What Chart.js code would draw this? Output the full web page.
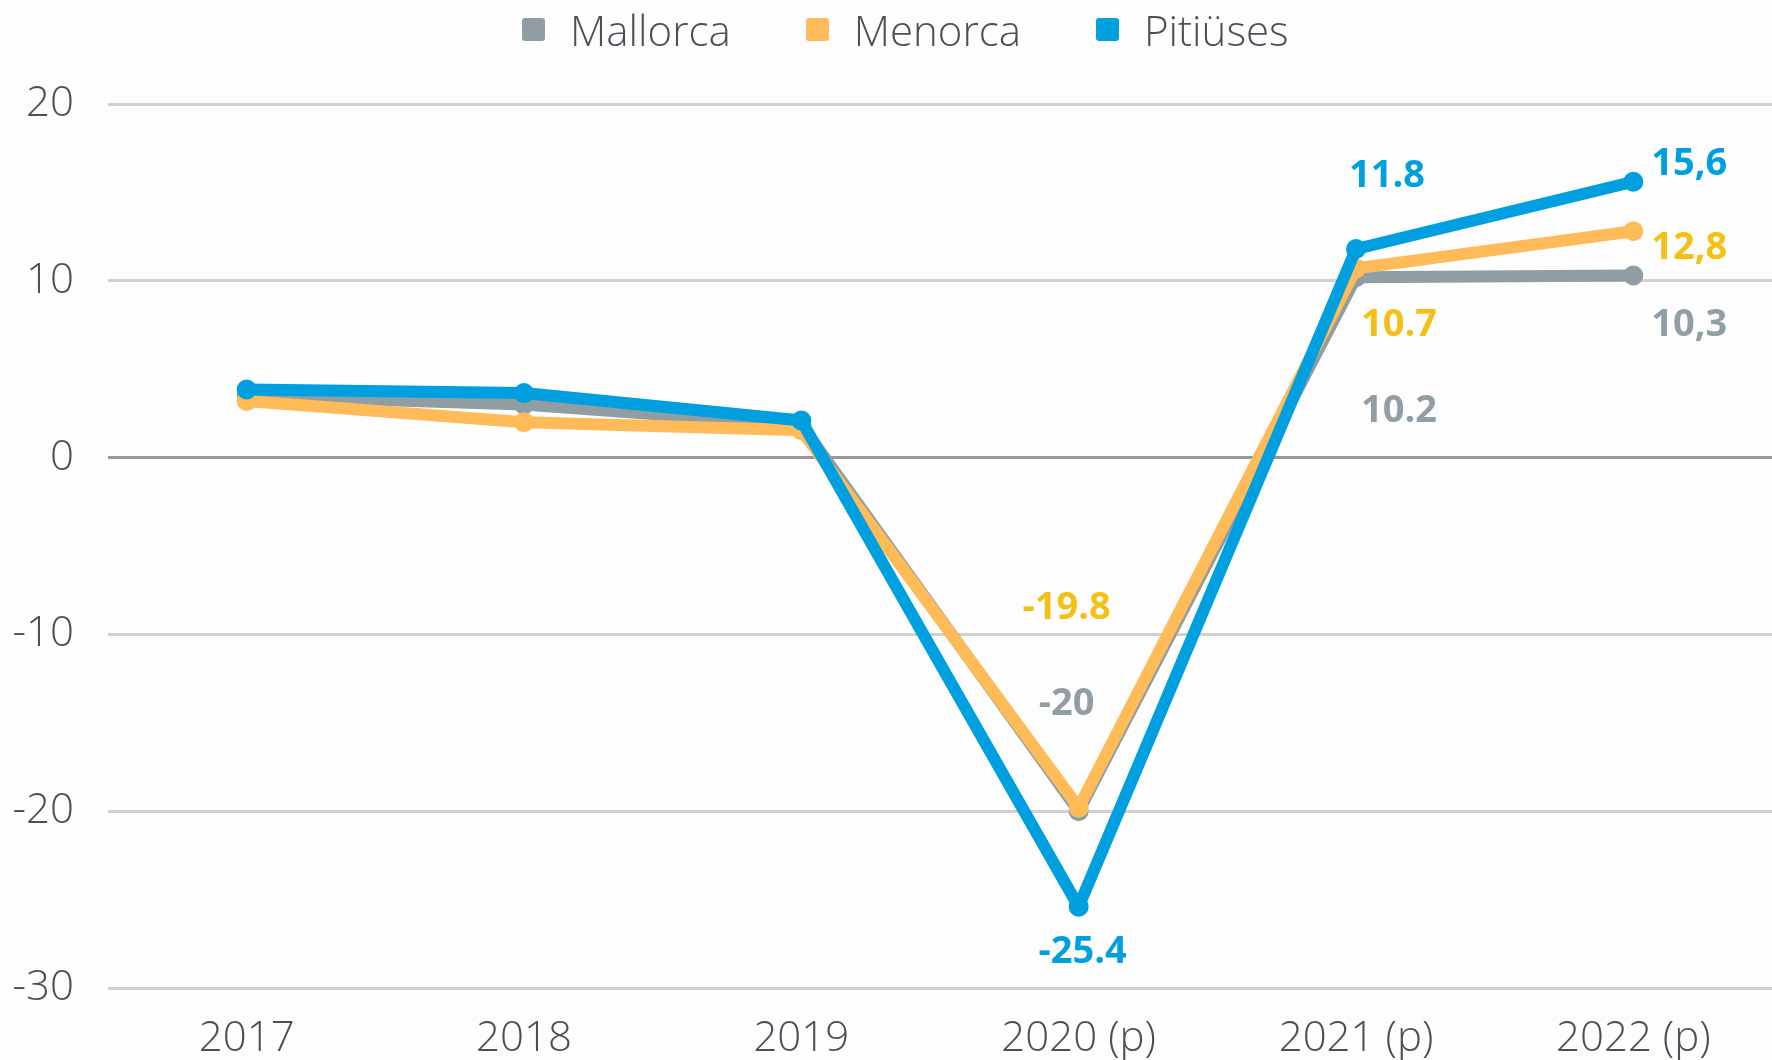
<!DOCTYPE html>
<html>
<head>
<meta charset="utf-8">
<script src="https://cdn.jsdelivr.net/npm/chart.js@4.4.0/dist/chart.umd.min.js"></script>
<style>
  html, body { margin: 0; padding: 0; background: #fdfdfd; overflow: hidden; }
  #wrap { position: relative; width: 1772px; height: 1060px; }
  canvas { display: block; }
  #legend {
    position: absolute; left: 522px; top: 0; height: 58px;
    display: flex; align-items: center;
    font-family: 'Open Sans', sans-serif; font-weight: 300; font-size: 42px; color: #4a5058;
  }
  .legend-item { display: flex; align-items: center; margin-right: 75px; }
  .legend-box { width: 23px; height: 23px; border-radius: 3px; margin-right: 25px; }
</style>
</head>
<body>
<div id="wrap">
  <canvas id="chart" width="1772" height="1060"></canvas>
  <div id="legend"></div>
</div>
<script>
// 数据
const years = ['2017', '2018', '2019', '2020 (p)', '2021 (p)', '2022 (p)'];
const mallorca = [3.5, 3.0, 1.85, -20, 10.2, 10.3];
const menorca = [3.2, 2.0, 1.55, -19.8, 10.7, 12.8];
const pitiuses = [3.85, 3.65, 2.1, -25.4, 11.8, 15.6];

// 数值标签（原图的写法，小数点和逗号混用）
const mallorcaLabels = [null, null, null, '-20', '10.2', '10,3'];
const menorcaLabels = [null, null, null, '-19.8', '10.7', '12,8'];
const pitiusesLabels = [null, null, null, '-25.4', '11.8', '15,6'];

// y 轴刻度
const yMin = -30;
const yMax = 20;
const yStep = 10;

// 标签相对点的偏移
const mallorcaOffsets = [null, null, null, [-12, -107], [43, 134], [56, 50]];
const menorcaOffsets = [null, null, null, [-12, -199], [43, 57], [56, 17]];
const pitiusesOffsets = [null, null, null, [4, 45], [31, -73], [56, -18]];

Chart.defaults.font.family = "'Open Sans', sans-serif";

// 画数值标签
const valueLabels = {
  id: 'valueLabels',
  afterDatasetsDraw(chart) {
    const ctx = chart.ctx;
    chart.data.datasets.forEach((ds, i) => {
      const meta = chart.getDatasetMeta(i);
      ds.valueLabels.forEach((txt, j) => {
        if (!txt) return;
        const pt = meta.data[j];
        const off = ds.labelOffsets[j];
        ctx.save();
        ctx.font = "bold 38px 'Open Sans', sans-serif";
        ctx.fillStyle = ds.labelColor;
        ctx.textAlign = 'center';
        ctx.textBaseline = 'middle';
        ctx.fillText(txt, pt.x + off[0], pt.y + off[1]);
        ctx.restore();
      });
    });
  }
};

function makeSeries(label, data, color, labelColor, labels, offsets, order) {
  return {
    label: label,
    data: data,
    borderColor: color,
    backgroundColor: color,
    pointBackgroundColor: color,
    pointBorderWidth: 0,
    borderWidth: 12,
    pointRadius: 10,
    pointHoverRadius: 10,
    tension: 0,
    borderJoinStyle: 'round',
    borderCapStyle: 'round',
    order: order,
    valueLabels: labels,
    labelOffsets: offsets,
    labelColor: labelColor
  };
}

const chart = new Chart(document.getElementById('chart'), {
  type: 'line',
  data: {
    labels: years,
    datasets: [
      makeSeries('Mallorca', mallorca, '#909da3', '#919ea5', mallorcaLabels, mallorcaOffsets, 3),
      makeSeries('Menorca', menorca, '#ffbb57', '#f5c016', menorcaLabels, menorcaOffsets, 2),
      makeSeries('Pitiüses', pitiuses, '#009fdf', '#009fdf', pitiusesLabels, pitiusesOffsets, 1)
    ]
  },
  options: {
    responsive: false,
    animation: false,
    devicePixelRatio: 1,
    layout: { autoPadding: false, padding: { top: 104, right: -6, bottom: 0, left: 0 } },
    plugins: {
      legend: { display: false },
      tooltip: { enabled: false }
    },
    scales: {
      x: {
        offset: true,
        grid: { display: false },
        border: { display: false },
        ticks: {
          color: '#4a5058',
          font: { size: 42, weight: '300' },
          padding: 18,
          maxRotation: 0
        },
        afterFit(scale) {
          scale.height = 72;
          scale.paddingLeft = 0;
          scale.paddingRight = 0;
        }
      },
      y: {
        min: yMin,
        max: yMax,
        border: { display: false },
        grid: {
          drawTicks: false,
          lineWidth: 3,
          color: ctx => ctx.tick && ctx.tick.value === 0 ? '#96969b' : '#d0d0d0'
        },
        ticks: {
          stepSize: yStep,
          color: '#4a5058',
          font: { size: 42, weight: '300' },
          padding: 34
        },
        afterFit(scale) { scale.width = 108; }
      }
    }
  },
  plugins: [valueLabels]
});

// 图例
const legendEl = document.getElementById('legend');
legendEl.innerHTML = chart.data.datasets.map(ds => `
  <div class="legend-item">
    <div class="legend-box" style="background:${ds.borderColor}"></div>
    <span>${ds.label}</span>
  </div>
`).join('');
</script>
</body>
</html>
